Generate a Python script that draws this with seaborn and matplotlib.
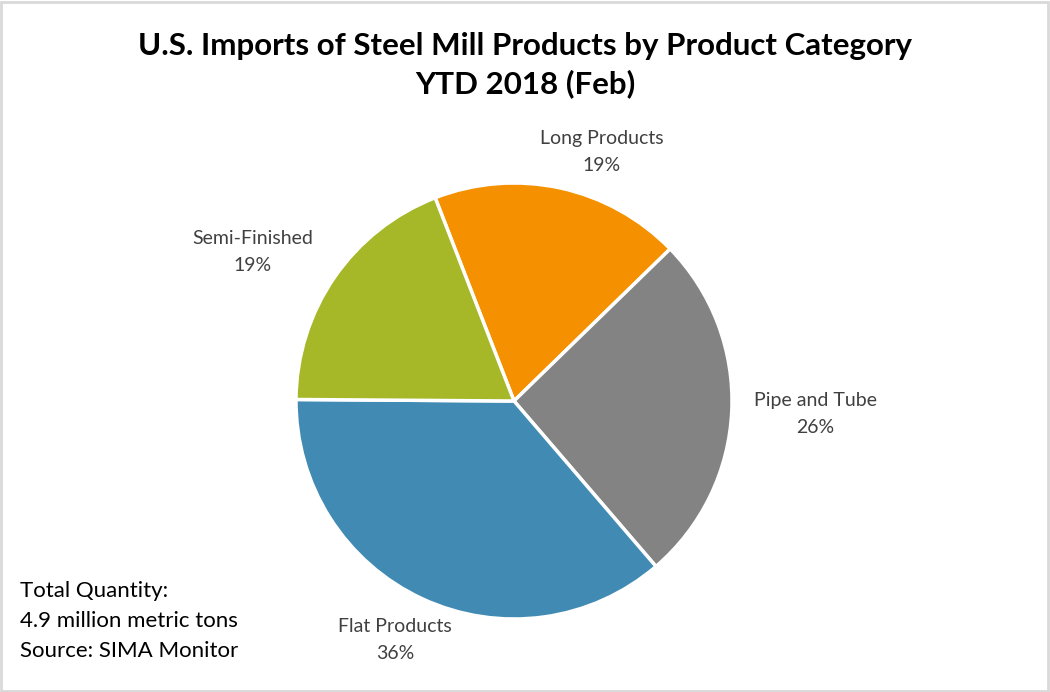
import matplotlib
matplotlib.use("Agg")
import matplotlib.pyplot as plt
from matplotlib.patches import Rectangle
import seaborn as sns

# Share of U.S. steel mill product imports, YTD 2018 (Feb), in percent
categories = ["Long Products", "Pipe and Tube", "Flat Products", "Semi-Finished"]
shares = [18.6, 26.0, 36.4, 19.0]
colors = ["#F59100", "#838383", "#418AB3", "#A6B727"]

sns.set_theme(style="white")
plt.rcParams["font.family"] = ["Lato", "DejaVu Sans"]

W, H = 1050, 692
fig = plt.figure(figsize=(W / 100, H / 100), dpi=100)
fig.patch.set_facecolor("white")

# Pie centred at (514, 401) px, radius 218 px
cx, cy, r = 514, 401, 218
ax = fig.add_axes([(cx - r) / W, (H - cy - r) / H, 2 * r / W, 2 * r / H])
wedges, _ = ax.pie(
    shares,
    colors=colors,
    startangle=111.2,
    counterclock=False,
    radius=1.0,
    wedgeprops=dict(edgecolor="white", linewidth=2.5),
)
ax.set_xlim(-1, 1)
ax.set_ylim(-1, 1)
ax.set_aspect("equal")
ax.axis("off")

# Category labels with rounded percentages
label_pos = {
    "Long Products": (602, 152),
    "Pipe and Tube": (815, 414),
    "Flat Products": (395, 640),
    "Semi-Finished": (253, 252),
}
for name, val in zip(categories, shares):
    x, y = label_pos[name]
    fig.text(x / W, 1 - y / H, f"{name}\n{round(val)}%", ha="center", va="center",
             fontsize=14, color="#404040", linespacing=1.65)

# Title
fig.text(525 / W, 1 - 65 / H,
         "U.S. Imports of Steel Mill Products by Product Category\nYTD 2018 (Feb)",
         ha="center", va="center", fontsize=22.5, fontweight="bold", color="black",
         linespacing=1.4)

# Note in the lower-left corner
fig.text(20 / W, 1 - 621 / H,
         "Total Quantity:\n4.9 million metric tons\nSource: SIMA Monitor",
         ha="left", va="center", fontsize=16, color="black", linespacing=1.6)

# Light border around the chart area
fig.add_artist(Rectangle((1 / W, 1 / H), 1 - 3 / W, 1 - 3 / H, transform=fig.transFigure,
                         fill=False, edgecolor="#D9D9D9", linewidth=2))

fig.savefig("out.png", dpi=100, facecolor="white")
